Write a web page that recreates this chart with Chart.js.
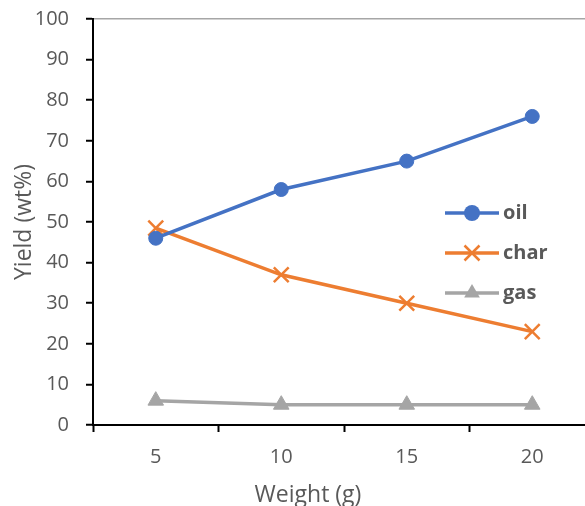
<!DOCTYPE html>
<html>
<head>
<meta charset="utf-8">
<script src="https://cdn.jsdelivr.net/npm/chart.js@4.4.0/dist/chart.umd.min.js"></script>
<style>
    html, body { margin: 0; padding: 0; background: #fff; overflow: hidden; width: 585px; height: 506px; }
    #wrap { position: relative; width: 616px; height: 506px; }
</style>
</head>
<body>
<div id="wrap"><canvas id="chart" width="616" height="506"></canvas></div>
<script>
// data
const weights = ["5", "10", "15", "20"];
const oilYield = [46, 58, 65, 76];
const charYield = [48.5, 37, 30, 23];
const gasYield = [6, 5, 5, 5];

const seriesNames = ["oil", "char", "gas"];
const seriesColors = ["#4472C4", "#ED7D31", "#A5A5A5"];
const seriesMarkers = ["circle", "crossRot", "triangle"];

const FONT = "'Open Sans', sans-serif";
const TEXT_GREY = "#595959";

function drawMarker(ctx, style, x, y, color) {
    ctx.save();
    ctx.fillStyle = color;
    ctx.strokeStyle = color;
    ctx.lineWidth = 2.5;
    ctx.beginPath();
    if (style === "circle") {
        ctx.arc(x, y, 8, 0, Math.PI * 2);
        ctx.fill();
    } else if (style === "crossRot") {
        const r = 7.5;
        ctx.moveTo(x - r, y - r); ctx.lineTo(x + r, y + r);
        ctx.moveTo(x + r, y - r); ctx.lineTo(x - r, y + r);
        ctx.stroke();
    } else {
        const r = 9;
        ctx.moveTo(x, y - r);
        ctx.lineTo(x + r * 0.87, y + r * 0.5);
        ctx.lineTo(x - r * 0.87, y + r * 0.5);
        ctx.closePath();
        ctx.fill();
    }
    ctx.restore();
}

// excel-style legend inside the plot (line through marker) + the x axis title,
// which excel centres on the whole chart rather than on the plot
const insideLegend = {
    id: "insideLegend",
    afterDatasetsDraw(chart) {
        const ctx = chart.ctx;
        const x0 = 445, x1 = 499, textX = 503;
        const rows = [213, 253, 293];
        seriesNames.forEach((name, i) => {
            const y = rows[i];
            ctx.save();
            ctx.strokeStyle = seriesColors[i];
            ctx.lineWidth = 3.5;
            ctx.beginPath();
            ctx.moveTo(x0, y);
            ctx.lineTo(x1, y);
            ctx.stroke();
            ctx.restore();
            drawMarker(ctx, seriesMarkers[i], (x0 + x1) / 2, y, seriesColors[i]);
            ctx.save();
            ctx.fillStyle = TEXT_GREY;
            ctx.font = `bold 20px ${FONT}`;
            ctx.textBaseline = "middle";
            ctx.textAlign = "left";
            ctx.fillText(name, textX, y);
            ctx.restore();
        });

        ctx.save();
        ctx.fillStyle = TEXT_GREY;
        ctx.font = `23px ${FONT}`;
        ctx.textAlign = "center";
        ctx.textBaseline = "middle";
        ctx.fillText("Weight (g)", 308, 495);
        ctx.restore();
    },
};

function lineSet(label, data, i, radius) {
    return {
        label,
        data,
        borderColor: seriesColors[i],
        backgroundColor: seriesColors[i],
        borderWidth: 3.5,
        pointStyle: seriesMarkers[i],
        pointRadius: radius,
        pointBorderWidth: i === 1 ? 2.5 : 1,
        pointBorderColor: seriesColors[i],
        pointBackgroundColor: seriesColors[i],
        tension: 0,
        clip: false,
    };
}

new Chart(document.getElementById("chart"), {
    type: "line",
    data: {
        labels: weights,
        datasets: [
            lineSet("oil", oilYield, 0, 7),
            lineSet("char", charYield, 1, 10.5),
            lineSet("gas", gasYield, 2, 9),
        ],
    },
    options: {
        responsive: false,
        animation: false,
        events: [],
        layout: { padding: { top: 19, right: 21, bottom: 0, left: 0 } },
        plugins: {
            legend: { display: false },
            tooltip: { enabled: false },
        },
        scales: {
            x: {
                offset: true,
                grid: { offset: true, drawOnChartArea: false, tickLength: 7, tickColor: "#000", tickWidth: 2 },
                border: { color: "#000", width: 2 },
                ticks: { color: TEXT_GREY, font: { family: FONT, size: 20 }, padding: 13 },
                afterFit(scale) { scale.height = 81; },
            },
            y: {
                min: 0,
                max: 100,
                // tiny lineHeight keeps the top label from pushing the plot down
                ticks: { stepSize: 10, color: TEXT_GREY, font: { family: FONT, size: 20, lineHeight: 0.1 }, padding: 17 },
                grid: {
                    color: (c) => (c.tick && c.tick.value === 100 ? "#A6A6A6" : "rgba(0,0,0,0)"),
                    lineWidth: 1.5,
                    tickLength: 7,
                    tickColor: "#000",
                    tickWidth: 2,
                },
                border: { color: "#000", width: 2 },
                title: {
                    display: true,
                    text: "Yield (wt%)",
                    color: TEXT_GREY,
                    font: { family: FONT, size: 23, weight: "normal" },
                    padding: { top: 11, bottom: 0 },
                },
                afterFit(scale) { scale.width = 93; },
            },
        },
    },
    plugins: [insideLegend],
});
</script>
</body>
</html>
